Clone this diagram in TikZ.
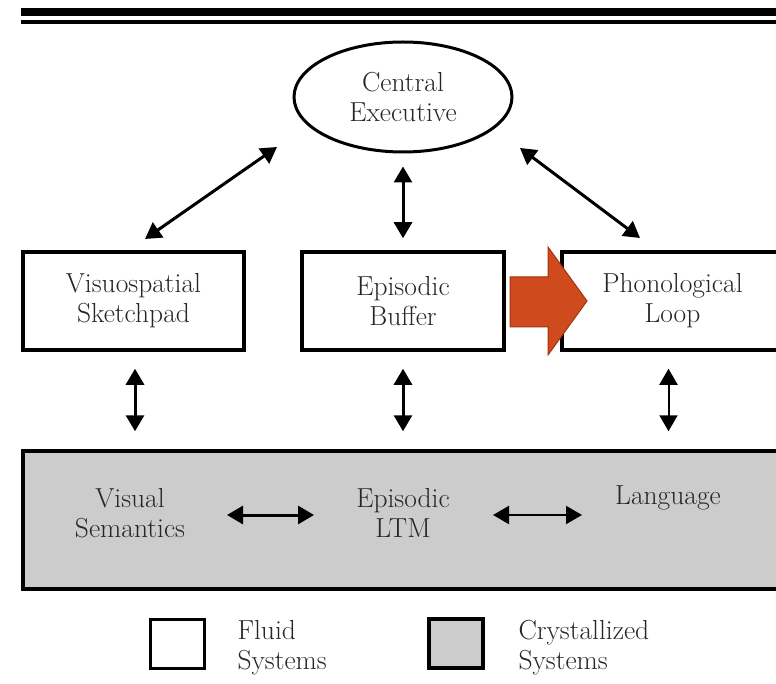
\documentclass[tikz,border=0pt]{standalone}
\usetikzlibrary{arrows.meta,shapes.geometric}
\definecolor{crys}{HTML}{CCCCCC}
\definecolor{blockred}{HTML}{CF4A1C}
\definecolor{blockedge}{HTML}{A0340F}
\definecolor{ink}{HTML}{262626}
\begin{document}
\begin{tikzpicture}[x=1pt,y=-1pt,
  lbl/.style={font=\fontsize{27.5}{30}\selectfont, text=ink, align=center},
  fluidbox/.style={lbl, rectangle, draw=black, fill=white, line width=3.5pt, inner sep=0pt},
  crysbox/.style={rectangle, draw=black, fill=crys, line width=3.5pt, inner sep=0pt},
  dar/.style={{Triangle[length=16pt,width=18pt]}-{Triangle[length=16pt,width=18pt]}, line width=3pt},
  darthin/.style={{Triangle[length=16pt,width=18pt]}-{Triangle[length=16pt,width=18pt]}, line width=2pt},
  legendtxt/.style={lbl, align=left, anchor=west}
]
\useasboundingbox (0,0) rectangle (776,684);
\clip (0,0) rectangle (776,684);

% header rules
\draw[line width=7.7pt] (20.7,12.2) -- (790,12.2);
\draw[line width=3.6pt] (20.7,22) -- (790,22);

% central executive
\node[lbl, ellipse, draw=black, line width=3pt, minimum width=218pt, minimum height=110pt, inner sep=0pt]
  (ce) at (403,97) {Central\\Executive};

% fluid systems
\node[fluidbox, minimum width=221pt, minimum height=98pt] (vs) at (133.5,301) {Visuospatial\\Sketchpad};
\node[fluidbox, minimum width=202pt, minimum height=98pt] (eb) at (403,301) {Episodic\\Buffer};
\node[fluidbox, minimum width=221pt, minimum height=98pt] (pl) at (672.5,301) {Phonological\\Loop};

% crystallized systems
\node[crysbox, minimum width=767pt, minimum height=138pt] (ltm) at (406.5,520) {};
\node[lbl] (vsem) at (130,513) {Visual\\Semantics};
\node[lbl] (eltm) at (403,513) {Episodic\\LTM};
\node[lbl] (lang) at (668,498) {Language};

% block arrow from the episodic buffer into the phonological loop
\filldraw[fill=blockred, draw=blockedge, line width=1pt]
  (510,277) -- (548,277) -- (548,247) -- (587,301) -- (548,355) -- (548,327) -- (510,327) -- cycle;

% executive links
\coordinate (ceL) at (277,147);
\coordinate (vsT) at (145,239);
\coordinate (ceR) at (520,148);
\coordinate (plT) at (640,238);
\draw[dar] (ceL) -- (vsT);
\draw[dar] (ceR) -- (plT);
\draw[dar, shorten <=13pt, shorten >=12pt] (ce.south) -- (eb.north);

% fluid <-> crystallized links
\draw[dar, shorten <=17pt, shorten >=18pt] ([xshift=1.5pt]vs.south) -- ([xshift=1.5pt]vs.south |- ltm.north);
\draw[dar, shorten <=17pt, shorten >=18pt] (eb.south) -- (eb.south |- ltm.north);
\draw[darthin, shorten <=17pt, shorten >=18pt] ([xshift=-4pt]pl.south) -- ([xshift=-4pt]pl.south |- ltm.north);

% links inside the crystallized layer
\coordinate (h1a) at (227,515);
\coordinate (h1b) at (314,515);
\coordinate (h2a) at (493,515);
\coordinate (h2b) at (582,515);
\draw[dar] (h1a) -- (h1b);
\draw[darthin] (h2a) -- (h2b);

% legend
\node[rectangle, draw=black, fill=white, line width=2.5pt, minimum width=54pt, minimum height=49pt] (lgf) at (177.5,644) {};
\node[rectangle, draw=black, fill=crys, line width=4pt, minimum width=54pt, minimum height=49pt] (lgc) at (456,643.5) {};
\node[legendtxt] (lgft) at (234,648) {Fluid\\Systems};
\node[legendtxt] (lgct) at (515,648) {Crystallized\\Systems};
\end{tikzpicture}
\end{document}
